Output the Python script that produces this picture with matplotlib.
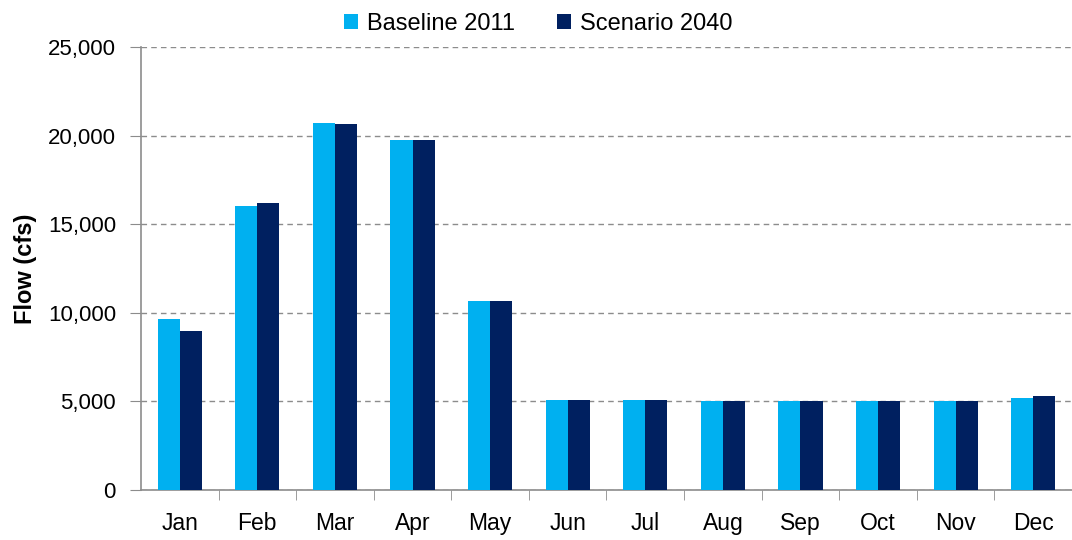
import matplotlib
matplotlib.use("Agg")
import matplotlib.pyplot as plt
import numpy as np
from matplotlib.ticker import FuncFormatter, FixedLocator

plt.rcParams["font.family"] = ["Liberation Sans", "DejaVu Sans"]

# ---------------------------------------------------------------------------
# Data (monthly flow, cfs)
# ---------------------------------------------------------------------------
months = ["Jan", "Feb", "Mar", "Apr", "May", "Jun",
          "Jul", "Aug", "Sep", "Oct", "Nov", "Dec"]
baseline_2011 = [9650, 16030, 20710, 19750, 10670, 5080,
                 5080, 5020, 5020, 5020, 5020, 5190]
scenario_2040 = [8970, 16200, 20650, 19750, 10670, 5080,
                 5080, 5020, 5020, 5020, 5020, 5300]
y_ticks = [0, 5000, 10000, 15000, 20000, 25000]

LIGHT = "#00B0F0"
DARK = "#002060"

fig = plt.figure(figsize=(10.72, 5.4), dpi=100)
ax = fig.add_axes([0.1315, 0.0926, 0.8685, 0.8204])

x = np.arange(len(months))
w = 0.285
ax.bar(x - w / 2, baseline_2011, width=w, color=LIGHT, label="Baseline 2011", zorder=3)
ax.bar(x + w / 2, scenario_2040, width=w, color=DARK, label="Scenario 2040", zorder=3)

ax.set_xlim(-0.5, len(months) - 0.5)
ax.set_ylim(0, 25000)
ax.set_yticks(y_ticks)
ax.yaxis.set_major_formatter(FuncFormatter(lambda v, _: f"{int(v):,}"))
ax.grid(axis="y", color="#8c8c8c", linestyle=(0, (4, 3)), linewidth=1, zorder=0)

ax.set_xticks(x)
ax.set_xticklabels(months)
ax.xaxis.set_minor_locator(FixedLocator(np.arange(0.5, len(months) - 0.5, 1)))
ax.tick_params(axis="x", which="major", length=0, pad=16, labelsize=16.5)
ax.tick_params(axis="x", which="minor", length=7, color="#8c8c8c", direction="out")
ax.tick_params(axis="y", length=8, color="#8c8c8c", pad=10, labelsize=16)

for side in ("top", "right"):
    ax.spines[side].set_visible(False)
for side in ("left", "bottom"):
    ax.spines[side].set_color("#8c8c8c")
    ax.spines[side].set_linewidth(1.2)

ax.set_ylabel("Flow (cfs)", fontsize=17, fontweight="bold", labelpad=8)

fig.legend(loc="center", bbox_to_anchor=(0.502, 0.955), ncol=2, frameon=False,
           fontsize=17, handlelength=0.6, handleheight=0.6, handletextpad=0.35,
           columnspacing=1.8)

fig.savefig("out.png", dpi=100)
